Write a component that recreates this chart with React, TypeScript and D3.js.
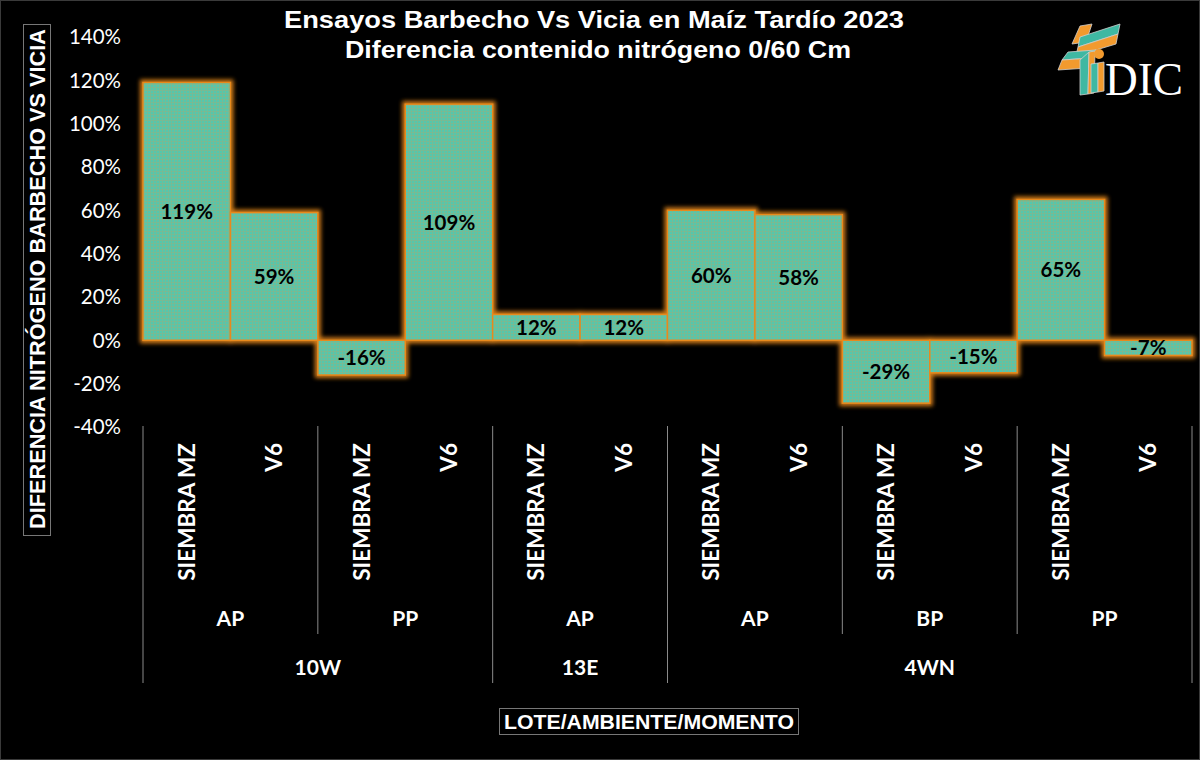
import * as d3 from "d3";
import React from "react";

// datos del gráfico
const momentos = ["SIEMBRA MZ", "V6", "SIEMBRA MZ", "V6", "SIEMBRA MZ", "V6", "SIEMBRA MZ", "V6", "SIEMBRA MZ", "V6", "SIEMBRA MZ", "V6"];
const ambientes = ["AP", "AP", "PP", "PP", "AP", "AP", "AP", "AP", "BP", "BP", "PP", "PP"];
const lotes = ["10W", "10W", "10W", "10W", "13E", "13E", "4WN", "4WN", "4WN", "4WN", "4WN", "4WN"];
const valores = [119, 59, -16, 109, 12, 12, 60, 58, -29, -15, 65, -7];
const yTicks = [-40, -20, 0, 20, 40, 60, 80, 100, 120, 140];

const titulo1 = "Ensayos Barbecho Vs Vicia en Maíz Tardío 2023";
const titulo2 = "Diferencia contenido nitrógeno 0/60 Cm";
const tituloY = "DIFERENCIA NITRÓGENO BARBECHO VS VICIA";
const tituloX = "LOTE/AMBIENTE/MOMENTO";

// agrupa etiquetas consecutivas (por clave) en tramos
const runs = (keys: string[], labels: string[]) => {
  const out: { label: string; start: number; end: number }[] = [];
  keys.forEach((k, i) => {
    const last = out[out.length - 1];
    if (last && keys[last.start] === k) last.end = i;
    else out.push({ label: labels[i], start: i, end: i });
  });
  return out;
};

const W = 1200, H = 760;
const left = 143, right = 1192, top = 37, bottom = 427;
const calibri = "Lato, 'Open Sans', sans-serif";
const arial = "'Liberation Sans', Arial, sans-serif";

export default function App() {
  const idx = valores.map((_, i) => String(i));
  const x = d3.scaleBand<string>().domain(idx).range([left, right]).padding(0);
  const y = d3.scaleLinear().domain([-40, 140]).range([bottom, top]);
  const bw = x.bandwidth();

  const ambGroups = runs(lotes.map((l, i) => l + "|" + ambientes[i]), ambientes);
  const loteGroups = runs(lotes, lotes);

  const axisTop = 426;
  const ambBottom = 634, loteBottom = 683;

  // posiciones de separadores
  const seps: { x: number; y2: number }[] = [];
  const loteEdges = new Set<number>();
  loteGroups.forEach(g => { loteEdges.add(g.start); loteEdges.add(g.end + 1); });
  const ambEdges = new Set<number>();
  ambGroups.forEach(g => { ambEdges.add(g.start); ambEdges.add(g.end + 1); });
  ambEdges.forEach(e => {
    const px = e < valores.length ? x(String(e))! : right;
    seps.push({ x: px, y2: loteEdges.has(e) ? loteBottom : ambBottom });
  });

  const logoStroke = { stroke: "#cfcfcf", strokeWidth: 0.8 };

  return (
    <div style={{ position: "fixed", left: 0, top: 0, width: W, height: H, background: "#000" }}>
      <svg width={W} height={H} style={{ display: "block" }}>
        <defs>
          <pattern id="grilla" width="3" height="3" patternUnits="userSpaceOnUse">
            <rect width="3" height="3" fill="#54c7ad" />
            <path d="M0 0.5H3M0.5 0V3" stroke="#c99a55" strokeWidth="1" opacity="0.3" />
          </pattern>
          <filter id="brillo" x="-20%" y="-20%" width="140%" height="140%">
            <feGaussianBlur stdDeviation="2.2" />
          </filter>
        </defs>
        <rect x={0.5} y={0.5} width={W - 1} height={H - 1} fill="#000" stroke="#3a3a3a" />

        {/* títulos */}
        <text x={594} y={28} textAnchor="middle" fill="#fff" fontFamily={arial} fontWeight="bold" fontSize={24}
          textLength={620} lengthAdjust="spacingAndGlyphs">{titulo1}</text>
        <text x={598} y={58} textAnchor="middle" fill="#fff" fontFamily={arial} fontWeight="bold" fontSize={24}
          textLength={506} lengthAdjust="spacingAndGlyphs">{titulo2}</text>

        {/* eje Y */}
        {yTicks.map(t => (
          <text key={t} x={121} y={y(t)} dy="0.35em" textAnchor="end" fill="#fff" fontFamily={calibri} fontSize={20.5}>{t}%</text>
        ))}
        <rect x={23.5} y={24.5} width={27} height={511} fill="none" stroke="#777" strokeWidth={1} />
        <g transform={`translate(37,${279}) rotate(-90)`}>
          <text x={0} y={0} dy="0.36em" textAnchor="middle" fill="#fff" fontFamily={arial} fontWeight="bold" fontSize={21.5}
            textLength={500} lengthAdjust="spacingAndGlyphs">{tituloY}</text>
        </g>

        {/* brillo de barras */}
        <g filter="url(#brillo)" opacity={0.9}>
          {valores.map((v, i) => (
            <rect key={i} x={x(String(i))} y={y(Math.max(v, 0))} width={bw} height={Math.abs(y(v) - y(0))}
              fill="none" stroke="#e8891c" strokeWidth={6} />
          ))}
        </g>
        {/* barras */}
        {valores.map((v, i) => (
          <rect key={i} x={x(String(i))} y={y(Math.max(v, 0))} width={bw} height={Math.abs(y(v) - y(0))}
            fill="url(#grilla)" stroke="#e8891c" strokeWidth={1.5} />
        ))}
        {/* etiquetas de datos */}
        {valores.map((v, i) => (
          <text key={i} x={x(String(i))! + bw / 2} y={(y(v) + y(0)) / 2} dy="0.36em" textAnchor="middle"
            fill="#000" fontFamily={calibri} fontWeight="bold" fontSize={20.5}>{v}%</text>
        ))}

        {/* eje de categorías multinivel */}
        {seps.map((s, i) => (
          <line key={i} x1={s.x} x2={s.x} y1={axisTop} y2={s.y2} stroke="#8a8a8a" strokeWidth={1} />
        ))}
        {momentos.map((m, i) => (
          <text key={i} transform={`translate(${x(String(i))! + bw / 2},443) rotate(-90)`} dy="0.36em" textAnchor="end"
            fill="#fff" fontFamily={calibri} fontWeight="bold" fontSize={22.5}>{m}</text>
        ))}
        {ambGroups.map((g, i) => (
          <text key={i} x={(x(String(g.start))! + x(String(g.end))! + bw) / 2} y={618} dy="0.36em" textAnchor="middle"
            fill="#fff" fontFamily={calibri} fontWeight="bold" fontSize={21}>{g.label}</text>
        ))}
        {loteGroups.map((g, i) => (
          <text key={i} x={(x(String(g.start))! + x(String(g.end))! + bw) / 2} y={667} dy="0.36em" textAnchor="middle"
            fill="#fff" fontFamily={calibri} fontWeight="bold" fontSize={21}>{g.label}</text>
        ))}

        {/* título eje X */}
        <rect x={499.5} y={708.5} width={299} height={26} fill="none" stroke="#777" />
        <text x={649} y={721.5} dy="0.36em" textAnchor="middle" fill="#fff" fontFamily={arial} fontWeight="bold" fontSize={21}
          textLength={290} lengthAdjust="spacingAndGlyphs">{tituloX}</text>

        {/* logo IDIC */}
        <g>
          <path d="M1072 44 L1080 26 L1092 24 L1086 42 Z" fill="#f29a2e" {...logoStroke} />
          <path d="M1080 37 L1120 24 L1118 34 L1078 47 Z" fill="#3fb8a2" {...logoStroke} />
          <path d="M1078 47 L1118 34 L1116 44 L1076 56 Z" fill="#f29a2e" {...logoStroke} />
          <path d="M1062 60 L1068 52 L1096 50 L1092 58 Z" fill="#3fb8a2" {...logoStroke} />
          <path d="M1058 70 L1062 60 L1092 58 L1088 68 Z" fill="#f29a2e" {...logoStroke} />
          <path d="M1080 60 L1089 52 L1088 94 L1080 95 Z" fill="#3fb8a2" {...logoStroke} />
          <path d="M1089 52 L1095 51 L1094 93 L1088 94 Z" fill="#f29a2e" {...logoStroke} />
          <path d="M1091 64 L1098 63 L1098 92 L1091 93 Z" fill="#3fb8a2" {...logoStroke} />
          <path d="M1098 63 L1104 62 L1104 91 L1098 92 Z" fill="#f29a2e" {...logoStroke} />
          <circle cx={1099} cy={54} r={5} fill="#f29a2e" />
          <text x={1105} y={95} fill="#fff" fontFamily="'Liberation Serif', 'DejaVu Serif', serif" fontSize={47}
            textLength={78} lengthAdjust="spacingAndGlyphs">DIC</text>
        </g>
      </svg>
    </div>
  );
}
